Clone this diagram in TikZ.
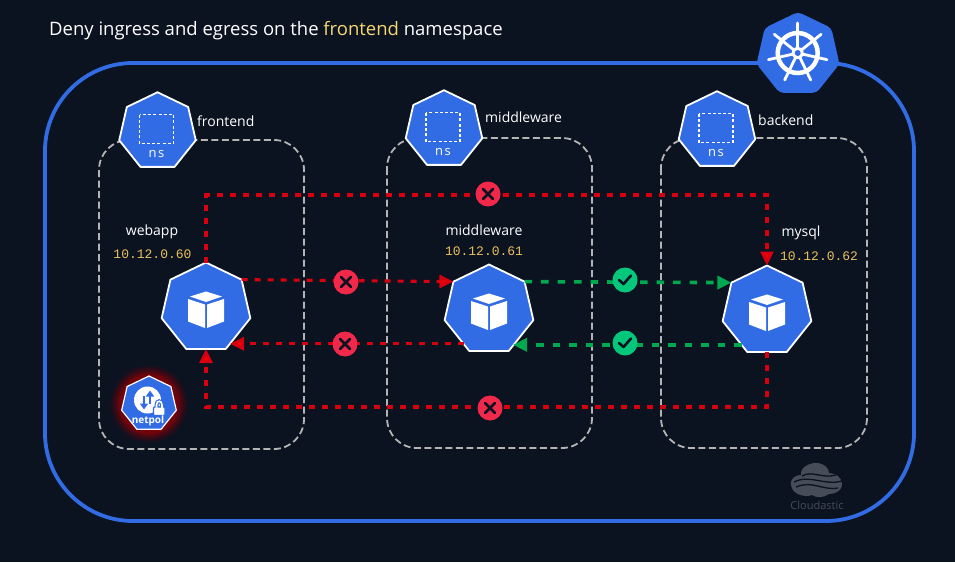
\documentclass[tikz,border=0pt]{standalone}
\usepackage{fontspec}
\setmainfont{Open Sans}
\newfontfamily\ipfont{Liberation Mono}
\usetikzlibrary{shapes.geometric,arrows.meta}
\definecolor{bgdark}{HTML}{0B1220}
\definecolor{kblue}{HTML}{326CE5}
\definecolor{boxgray}{HTML}{B4B4B4}
\definecolor{ipyellow}{HTML}{E9C15F}
\definecolor{titleyellow}{HTML}{F7D774}
\definecolor{denyred}{HTML}{F0284A}
\definecolor{linered}{HTML}{D8000F}
\definecolor{linegreen}{HTML}{00A850}
\definecolor{okgreen}{HTML}{05C77C}
\definecolor{logogray}{HTML}{464C58}
\tikzset{
  hepta/.style={regular polygon,regular polygon sides=7,inner sep=0pt,outer sep=0pt,fill=kblue,draw=white,line width=1.8pt,line join=round},
  podnode/.style={hepta,minimum size=91pt},
  nsnode/.style={hepta,minimum size=78.5pt},
  netnode/.style={hepta,minimum size=56pt,line width=1.2pt},
  logonode/.style={hepta,minimum size=84pt,draw=kblue,line width=1pt,rounded corners=4pt},
  nsbox/.style={draw=boxgray,line width=1.8pt,dash pattern=on 7pt off 3.5pt,rounded corners=30pt},
  redline/.style={draw=linered,line width=3.1pt,dash pattern=on 6pt off 7pt,-{Triangle[length=14pt,width=13pt,fill=red]}},
  greenline/.style={draw=linegreen,line width=3.6pt,dash pattern=on 7.5pt off 9pt,-{Triangle[length=14pt,width=13pt,fill=linegreen]}},
  lbl/.style={text=white,font=\fontsize{14}{16}\selectfont,inner sep=0pt},
  iplbl/.style={text=ipyellow,font=\ipfont\fontsize{13}{16}\selectfont,inner sep=0pt},
  denymark/.style={circle,fill=denyred,minimum size=25pt,inner sep=0pt,
    path picture={\draw[bgdark,line width=2.6pt,line cap=round]
      ([shift={(-5pt,-5pt)}]path picture bounding box.center) -- ([shift={(5pt,5pt)}]path picture bounding box.center)
      ([shift={(-5pt,5pt)}]path picture bounding box.center) -- ([shift={(5pt,-5pt)}]path picture bounding box.center);}},
  okmark/.style={circle,fill=okgreen,minimum size=25pt,inner sep=0pt,
    path picture={\draw[bgdark,line width=2.6pt,line cap=round,line join=round]
      ([shift={(-6pt,0pt)}]path picture bounding box.center) -- ([shift={(-1.5pt,-4pt)}]path picture bounding box.center) -- ([shift={(6pt,4.5pt)}]path picture bounding box.center);}},
}
% cube icon drawn round a node centre
\newcommand{\cubeicon}[1]{%
  \begin{scope}[shift={(#1.center)}]
    \fill[white] (0,-16.5) -- (16,-11.5) -- (0,-6) -- (-16,-11.5) -- cycle;
    \fill[white] (-18,-9) -- (-1,-3.5) -- (-1,20) -- (-18,13.5) -- cycle;
    \fill[white] (18,-9) -- (1,-3.5) -- (1,20) -- (18,13.5) -- cycle;
  \end{scope}}
% namespace icon
\newcommand{\nsicon}[2]{%
  \draw[white,line width=1.4pt,dash pattern=on 3pt off 2.2pt] ([shift={(-18,-17)}]#1.center) rectangle ([shift={(16,12)}]#1.center);
  \node[text=white,font=\fontsize{13}{14}\selectfont,inner sep=0pt] (#2) at ([shift={(-1,23)}]#1.center) {n\kern1.5pt s};}
\begin{document}
\begin{tikzpicture}[x=1pt,y=-1pt]
\useasboundingbox (0,0) rectangle (955,562);
\fill[bgdark] (0,0) rectangle (955,562);
% frame
\draw[kblue,line width=3.8pt,rounded corners=88pt] (45,63) rectangle (914,521);
% namespace boxes
\draw[nsbox] (99,140) rectangle (304,449);
\draw[nsbox] (387,138) rectangle (592,448);
\draw[nsbox] (661,138) rectangle (867,448);
% nodes
\node[nsnode] (nsfront) at (157.5,131.5) {};
\node[nsnode] (nsmid) at (444,129.5) {};
\node[nsnode] (nsback) at (717,130.5) {};
\node[podnode] (webapp) at (206,308) {};
\node[podnode] (mw) at (489,310) {};
\node[podnode] (mysql) at (767,311) {};
\nsicon{nsfront}{nslabela}
\nsicon{nsmid}{nslabelb}
\nsicon{nsback}{nslabelc}
\cubeicon{webapp}
\cubeicon{mw}
\cubeicon{mysql}
% connector bends
\coordinate (topbend) at (488,195);
\coordinate (botbend) at (490,407);
% connectors
\draw[redline] (webapp.north) |- (topbend) -| (mysql.north);
\draw[redline] (webapp.corner 7) -- (mw.corner 2);
\draw[redline] (mw.233) -- (webapp.304 |- mw.233);
\draw[redline] (mysql.south) |- (botbend) -| (webapp.south);
\draw[greenline] (mw.corner 7) -- (mysql.corner 2);
\draw[greenline] (mysql.233) -- (mw.304 |- mysql.233);
% status marks
\node[denymark] (xtop) at (488,194) {};
\node[denymark] (xa) at (346,282) {};
\node[denymark] (xb) at (345,344) {};
\node[denymark] (xbot) at (490,408) {};
\node[okmark] (oka) at (625,280) {};
\node[okmark] (okb) at (625,343) {};
% netpol with glow
\foreach \s/\o in {78/.06,75/.07,72/.09,69/.11,66/.14,63/.18,60/.24}{
  \fill[red!70!black,opacity=\o] (149,404) circle (\s/2);
}
\node[netnode] (netpol) at (149,404) {};
\fill[white] (147.5,400) circle (13.5);
\draw[kblue,line width=2pt,-{Triangle[length=6pt,width=8pt]}] (150,404) -- (150,390.5);
\draw[kblue,line width=2pt,-{Triangle[length=6pt,width=8pt]}] (144,396) -- (144,409.5);
\draw[kblue,line width=4pt] (156.5,408) -- (156.5,405) .. controls (156.5,400) and (162,400) .. (162,405) -- (162,408);
\draw[kblue,fill=white,line width=1.2pt,rounded corners=1pt] (153.5,407) rectangle (165,415.5);
\draw[white,line width=1.6pt] (156.5,408) -- (156.5,405) .. controls (156.5,400) and (162,400) .. (162,405) -- (162,408);
\node[text=white,font=\bfseries\fontsize{10}{12}\selectfont,inner sep=0pt] (netlabel) at (148,421) {netpol};
% kubernetes logo
\node[logonode] (k8s) at (798,54.5) {};
\draw[white,line width=4.5pt] (797.7,53) circle (20);
\foreach \a in {0,...,6}{
  \draw[white,line width=2.8pt,line cap=round] (797.7,53) -- ++({270+\a*51.43}:30);
}
\fill[white] (797.7,53) circle (6);
\fill[kblue] (797.7,53) circle (3);
% texts
\node[anchor=west,text=white,inner sep=0pt,font=\fontsize{18.5}{22}\selectfont] (title) at (49,31) {Deny ingress and egress on the \textcolor{titleyellow}{frontend} namespace};
\node[lbl,anchor=west] (lfront) at (197,121) {frontend};
\node[lbl,anchor=west] (lmid) at (485,117) {middleware};
\node[lbl,anchor=west] (lback) at (758,120) {backend};
\node[lbl] (lwebapp) at (152,232) {webapp};
\node[lbl] (lmw) at (484,230) {middleware};
\node[lbl] (lmysql) at (801,233) {mysql};
\node[iplbl] (ipa) at (152.5,254) {10.12.0.60};
\node[iplbl] (ipb) at (484,251) {10.12.0.61};
\node[iplbl] (ipc) at (819,256) {10.12.0.62};
% watermark
\fill[logogray] (791,485) .. controls (790,478) and (796,475) .. (801,475) .. controls (800,468) and (808,463) .. (816,463) .. controls (824,463) and (829,468) .. (829,473) .. controls (836,473) and (842,478) .. (842,484) .. controls (842,491) and (835,494) .. (829,494) .. controls (824,498) and (816,498) .. (812,495) .. controls (804,498) and (792,494) .. (791,485) -- cycle;
\draw[bgdark,line width=1.3pt] (802,476) .. controls (812,470) and (822,479) .. (836,475);
\draw[bgdark,line width=1.3pt] (794,482) .. controls (810,474) and (824,486) .. (842,481);
\draw[bgdark,line width=1.3pt] (796,487) .. controls (812,480) and (824,491) .. (838,488);
\node[text=logogray,font=\fontsize{11}{13}\selectfont,inner sep=0pt] (cloudastic) at (817,505) {Cloudastic};
\end{tikzpicture}
\end{document}
